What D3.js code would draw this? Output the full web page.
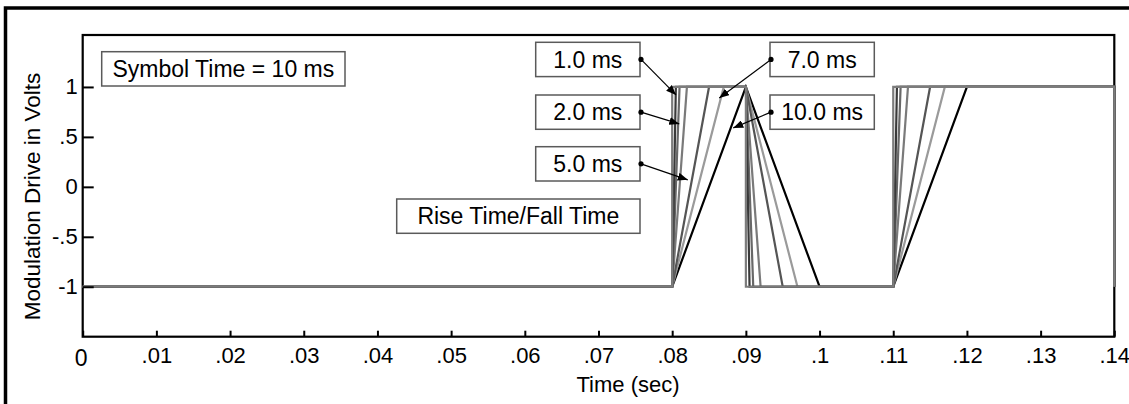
<!DOCTYPE html>
<html lang="en">
<head>
<meta charset="UTF-8">
<title>Modulation Drive vs Time</title>
<script src="https://cdn.jsdelivr.net/npm/d3@7"></script>
<style>
  body { margin: 0; background: #fff; }
  text { font-family: Arial, "Liberation Sans", sans-serif; fill: #000; }
</style>
</head>
<body>
<svg width="1129" height="404"></svg>
<script>
// levels of the bit pattern, one per breakpoint
var levels = [-1, -1, 1, 1, -1, -1, 1, 1, -1];

// breakpoint times (sec) for each rise/fall time
var times0   = [0, 0.08, 0.08,   0.09, 0.09,   0.11, 0.11,   0.14, 0.14];
var times05  = [0, 0.08, 0.0805, 0.09, 0.0905, 0.11, 0.1105, 0.14, 0.14];
var times1   = [0, 0.08, 0.081,  0.09, 0.091,  0.11, 0.111,  0.14, 0.14];
var times2   = [0, 0.08, 0.082,  0.09, 0.092,  0.11, 0.112,  0.14, 0.14];
var times5   = [0, 0.08, 0.085,  0.09, 0.095,  0.11, 0.115,  0.14, 0.14];
var times7   = [0, 0.08, 0.087,  0.09, 0.097,  0.11, 0.117,  0.14, 0.14];
var times10  = [0, 0.08, 0.09,   0.09, 0.10,   0.11, 0.12,   0.14, 0.14];

var xTicks = [0, .01, .02, .03, .04, .05, .06, .07, .08, .09, .1, .11, .12, .13, .14];
var xTickLabels = ['0', '.01', '.02', '.03', '.04', '.05', '.06', '.07', '.08', '.09', '.1', '.11', '.12', '.13', '.14'];
var yTicks = [1, .5, 0, -.5, -1];
var yTickLabels = ['1', '.5', '0', '-.5', '-1'];

// callouts: label, and the point (t, v) the arrow points to
var calloutLabels = ['1.0 ms', '2.0 ms', '5.0 ms', '7.0 ms', '10.0 ms'];
var calloutT = [0.08052, 0.08096, 0.08211, 0.08639, 0.08829];
var calloutV = [0.92, 0.63, 0.07, 0.89, 0.59];

var svg = d3.select('svg');

// outer frame
svg.append('rect')
  .attr('x', 5.5).attr('y', 8)
  .attr('width', 1300).attr('height', 500)
  .attr('fill', 'none').attr('stroke', '#000').attr('stroke-width', 3.5);

var x = d3.scaleLinear().domain([0, 0.14]).range([82.7, 1114.3]);
var y = d3.scaleLinear().domain([-1.5, 1.52]).range([336.7, 35]);

var defs = svg.append('defs');
defs.append('marker')
  .attr('id', 'arrow')
  .attr('markerUnits', 'userSpaceOnUse')
  .attr('markerWidth', 10).attr('markerHeight', 8)
  .attr('refX', 10).attr('refY', 4)
  .attr('orient', 'auto')
  .append('path').attr('d', 'M0,0 L10,4 L0,8 Z').attr('fill', '#000');

// plot frame (under the traces)
svg.append('rect')
  .attr('x', x(0)).attr('y', y(1.52))
  .attr('width', x(0.14) - x(0)).attr('height', y(-1.5) - y(1.52))
  .attr('fill', 'none').attr('stroke', '#000').attr('stroke-width', 2.2);

// waveforms, drawn slowest first so the square wave sits on top
var series = [
  { t: times10, color: '#000' },
  { t: times7,  color: '#9a9a9a' },
  { t: times5,  color: '#555' },
  { t: times2,  color: '#7a7a7a' },
  { t: times1,  color: '#686868' },
  { t: times05, color: '#3a3a3a' },
  { t: times0,  color: '#7c7c7c' }
];

var line = d3.line()
  .x(function(d) { return x(d[0]); })
  .y(function(d) { return y(d[1]); });

svg.append('g').selectAll('path')
  .data(series)
  .enter().append('path')
  .attr('d', function(s) {
    return line(s.t.map(function(t, i) { return [t, levels[i]]; }));
  })
  .attr('fill', 'none')
  .attr('stroke', function(s) { return s.color; })
  .attr('stroke-width', 2.2)
  .attr('stroke-linejoin', 'miter');

// axes, ticks inward
var xAxis = d3.axisBottom(x).tickValues(xTicks)
  .tickSize(-6).tickPadding(10)
  .tickFormat(function(d, i) { return xTickLabels[i]; });
var gx = svg.append('g').attr('transform', 'translate(0,' + y(-1.5) + ')').call(xAxis);

var yAxis = d3.axisLeft(y).tickValues(yTicks)
  .tickSize(-11).tickPadding(5)
  .tickFormat(function(d, i) { return yTickLabels[i]; });
var gy = svg.append('g').attr('transform', 'translate(' + x(0) + ',0)').call(yAxis);

[gx, gy].forEach(function(g) {
  g.select('.domain').remove();
  g.selectAll('line').attr('stroke', '#000').attr('stroke-width', 2);
  g.selectAll('text').attr('font-size', 22).attr('font-family', 'Arial, "Liberation Sans", sans-serif');
});
gx.selectAll('text').attr('dy', null)
  .attr('y', function(d) { return d === 0 ? 29.5 : 26.5; })
  .attr('dx', function(d) { return d === 0 ? -2 : 0; })
  .attr('font-size', function(d) { return d === 0 ? 23 : 22; });
gy.selectAll('text').attr('x', -5);

// axis titles
svg.append('text')
  .attr('x', 628).attr('y', 391.5)
  .attr('text-anchor', 'middle')
  .attr('font-size', 22)
  .text('Time (sec)');

svg.append('text')
  .attr('transform', 'translate(40,196.5) rotate(-90)')
  .attr('text-anchor', 'middle')
  .attr('font-size', 22.5)
  .text('Modulation Drive in Volts');

// text boxes
function box(bx, by, w, h, label) {
  svg.append('rect')
    .attr('x', bx).attr('y', by).attr('width', w).attr('height', h)
    .attr('fill', '#fff').attr('stroke', '#5a5a5a').attr('stroke-width', 1.5);
  svg.append('text')
    .attr('x', bx + w / 2).attr('y', by + h / 2)
    .attr('dy', '0.36em')
    .attr('text-anchor', 'middle')
    .attr('font-size', 23)
    .text(label);
}

box(101.7, 51.7, 243.3, 34.3, 'Symbol Time = 10 ms');
box(396.7, 199, 243.3, 34.3, 'Rise Time/Fall Time');

// callout boxes: three on the left, two on the right
var boxX = [535.7, 535.7, 535.7, 770, 770];
var boxY = [42.3, 95, 146.7, 42.3, 95];
var bw = 104.3, bh = 34.3;

calloutLabels.forEach(function(lab, i) {
  box(boxX[i], boxY[i], bw, bh, lab);
  var left = boxX[i] < 700;
  var dx = left ? boxX[i] + bw + 1 : boxX[i] + 1;
  var dy = boxY[i] + bh / 2;
  svg.append('line')
    .attr('x1', dx).attr('y1', dy)
    .attr('x2', x(calloutT[i])).attr('y2', y(calloutV[i]))
    .attr('stroke', '#000').attr('stroke-width', 1.2)
    .attr('marker-end', 'url(#arrow)');
  svg.append('circle')
    .attr('cx', dx).attr('cy', dy).attr('r', 2.6)
    .attr('fill', '#000');
});
</script>
</body>
</html>
